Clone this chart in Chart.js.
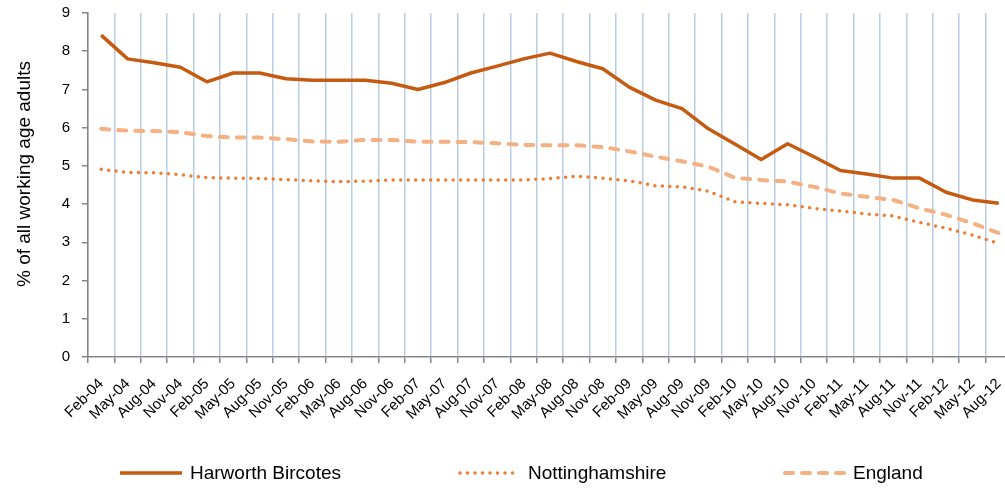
<!DOCTYPE html>
<html>
<head>
<meta charset="utf-8">
<script src="https://cdn.jsdelivr.net/npm/chart.js@4/dist/chart.umd.min.js"></script>
<style>
  html, body { margin: 0; padding: 0; background: #fff; }
  #wrap { position: relative; width: 1005px; height: 488px; overflow: hidden; }
  #chart { position: absolute; left: 0; top: 0; }
  #legend { position: absolute; left: 0; top: 460px; width: 1005px; height: 26px;
            font-family: "Liberation Sans", Arial, sans-serif; font-size: 19px; color: #000; }
  .item { position: absolute; top: 0; height: 26px; display: flex; align-items: center; white-space: nowrap; }
  .item svg { margin-right: 6px; }
</style>
</head>
<body>
<div id="wrap">
  <canvas id="chart" width="1012" height="488"></canvas>
  <div id="legend"></div>
</div>
<script>
// quarterly labels, Feb-04 .. Aug-12
const labels = [
  'Feb-04', 'May-04', 'Aug-04', 'Nov-04',
  'Feb-05', 'May-05', 'Aug-05', 'Nov-05',
  'Feb-06', 'May-06', 'Aug-06', 'Nov-06',
  'Feb-07', 'May-07', 'Aug-07', 'Nov-07',
  'Feb-08', 'May-08', 'Aug-08', 'Nov-08',
  'Feb-09', 'May-09', 'Aug-09', 'Nov-09',
  'Feb-10', 'May-10', 'Aug-10', 'Nov-10',
  'Feb-11', 'May-11', 'Aug-11', 'Nov-11',
  'Feb-12', 'May-12', 'Aug-12'
];

const harworth = [
  8.42, 7.8, 7.7, 7.58, 7.2, 7.43, 7.43, 7.28, 7.24, 7.24, 7.24, 7.16,
  7.0, 7.18, 7.43, 7.61, 7.8, 7.95, 7.73, 7.54, 7.06, 6.72, 6.5, 5.97,
  5.57, 5.17, 5.58, 5.24, 4.88, 4.79, 4.68, 4.68, 4.31, 4.11, 4.02
];

const notts = [
  4.91, 4.83, 4.82, 4.77, 4.69, 4.68, 4.67, 4.64, 4.61, 4.59, 4.6, 4.63,
  4.63, 4.63, 4.63, 4.63, 4.63, 4.67, 4.73, 4.68, 4.61, 4.48, 4.45, 4.34,
  4.06, 4.02, 3.98, 3.89, 3.82, 3.74, 3.69, 3.52, 3.37, 3.19, 2.97
];

const england = [
  5.97, 5.92, 5.91, 5.88, 5.78, 5.74, 5.74, 5.7, 5.64, 5.63, 5.68, 5.68,
  5.63, 5.63, 5.62, 5.59, 5.55, 5.54, 5.54, 5.49, 5.38, 5.24, 5.12, 4.98,
  4.69, 4.63, 4.59, 4.45, 4.28, 4.19, 4.11, 3.89, 3.72, 3.5, 3.24
];

const yMin = 0, yMax = 9, yStep = 1;
const yTitle = '% of all working age adults';

const FONT = '"Liberation Sans", Arial, sans-serif';
const AXIS = '#868686';

const series = [
  { label: 'Harworth Bircotes', data: harworth, color: '#c55a11', width: 3.5, dash: [] },
  { label: 'Nottinghamshire', data: notts, color: '#ed7d31', width: 3.5, dash: [0, 7.5] },
  { label: 'England', data: england, color: '#f4b183', width: 4, dash: [8, 9] }
];

// y axis title, placed where Excel had it (a bit above the axis middle)
const yTitlePlugin = {
  id: 'yTitle',
  afterDraw(chart) {
    const ctx = chart.ctx;
    ctx.save();
    ctx.translate(25, 174);
    ctx.rotate(-Math.PI / 2);
    ctx.font = '19px ' + FONT;
    ctx.fillStyle = '#000';
    ctx.textAlign = 'center';
    ctx.textBaseline = 'middle';
    ctx.fillText(yTitle, 0, 0);
    ctx.restore();
  }
};

new Chart(document.getElementById('chart'), {
  type: 'line',
  data: {
    labels: labels,
    datasets: series.map(s => ({
      label: s.label,
      data: s.data,
      borderColor: s.color,
      backgroundColor: s.color,
      borderWidth: s.width,
      borderDash: s.dash,
      borderCapStyle: s.dash.length ? 'round' : 'butt',
      borderJoinStyle: 'round',
      pointRadius: 0,
      tension: 0,
      fill: false
    }))
  },
  options: {
    responsive: false,
    animation: false,
    devicePixelRatio: 1,
    layout: { padding: { top: 13, right: 0, bottom: 55, left: 0 } },
    scales: {
      x: {
        offset: true,
        grid: {
          offset: true,
          color: '#b9cde5',
          lineWidth: 1.5,
          tickColor: AXIS,
          tickLength: 6
        },
        border: { color: AXIS, width: 1.5 },
        ticks: {
          autoSkip: false,
          minRotation: 45,
          maxRotation: 45,
          padding: 12,
          color: '#000',
          font: { family: FONT, size: 15 }
        },
        afterFit: s => {
          s.height = 76;
          s.paddingLeft = 0;
          s.paddingRight = 0;
        }
      },
      y: {
        min: yMin,
        max: yMax,
        ticks: {
          stepSize: yStep,
          padding: 12,
          color: '#000',
          font: { family: FONT, size: 15 }
        },
        grid: { drawOnChartArea: false, tickLength: 6, tickColor: AXIS, lineWidth: 1.5 },
        border: { color: AXIS, width: 1.5 },
        afterFit: s => {
          s.width = 88;
          s.paddingTop = 0;
          s.paddingBottom = 0;
        }
      }
    },
    plugins: {
      legend: { display: false },
      tooltip: { enabled: false }
    }
  },
  plugins: [yTitlePlugin]
});

// legend below the plot
const legendPos = [120, 458, 783];
const legend = document.getElementById('legend');
series.forEach((s, i) => {
  const item = document.createElement('div');
  item.className = 'item';
  item.style.left = legendPos[i] + 'px';
  const cap = s.dash.length ? 'round' : 'butt';
  item.innerHTML =
    '<svg width="64" height="10"><line x1="' + (s.dash.length ? 2 : 0) + '" y1="5" x2="62" y2="5" stroke="' + s.color +
    '" stroke-width="' + s.width + '" stroke-linecap="' + cap + '" stroke-dasharray="' + (s.dash.join(' ') || 'none') +
    '"/></svg><span>' + s.label + '</span>';
  legend.appendChild(item);
});
</script>
</body>
</html>
